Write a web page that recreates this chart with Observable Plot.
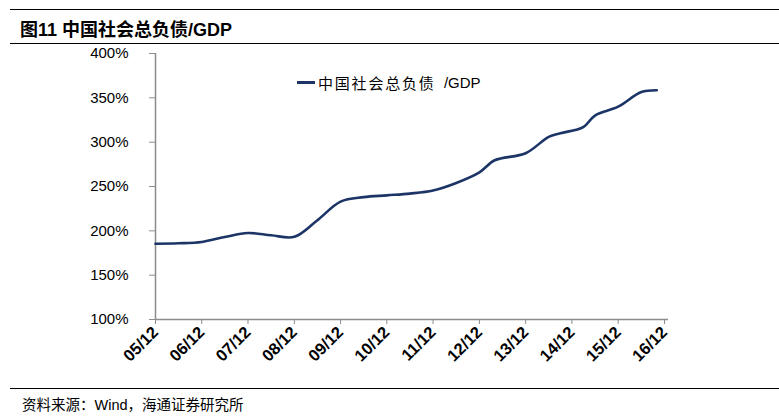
<!DOCTYPE html>
<html>
<head>
<meta charset="utf-8">
<script src="https://cdn.jsdelivr.net/npm/d3@7"></script>
<script src="https://cdn.jsdelivr.net/npm/@observablehq/plot@0.6"></script>
<style>
  html, body { margin: 0; padding: 0; background: #fff; }
  body { width: 779px; height: 416px; position: relative; overflow: hidden; font-family: "Liberation Sans", Arial, sans-serif; }
  #title { position: absolute; left: 10px; right: 0; top: 9px; height: 33px; border-top: 1.5px solid #000; border-bottom: 1.5px solid #000; }
  #title span { position: absolute; left: 10px; top: 5px; font-family: "Liberation Sans", "Noto Sans CJK SC", sans-serif; font-weight: bold; font-size: 18px; color: #000; }
  #chart { position: absolute; left: 0; top: 44px; }
  #legend { position: absolute; left: 297px; top: 72px; font-size: 15px; color: #000; display: flex; align-items: center; }
  #legend .sw { width: 18px; height: 3px; background: #1c3566; margin-right: 3px; }
  #legend .cn { font-family: "Noto Sans CJK SC", sans-serif; letter-spacing: 1.8px; }
  #footer { position: absolute; left: 10px; right: 0; top: 388px; border-top: 1.2px solid #000; }
  #footer span { position: absolute; left: 12px; top: 4px; font-size: 14.5px; font-family: "Liberation Sans", "Noto Sans CJK SC", sans-serif; color: #000; }
</style>
</head>
<body>
<div id="title"><span>图11 中国社会总负债/GDP</span></div>
<div id="chart"></div>
<div id="legend"><div class="sw"></div><span class="cn">中国社会总负债</span><span>&nbsp;&nbsp;/GDP</span></div>
<div id="footer"><span>资料来源：Wind，海通证券研究所</span></div>
<script>
// Data
const dates = ["2005-12","2006-06","2006-12","2007-06","2007-12","2008-06","2008-12","2009-06","2009-12","2010-06","2010-12","2011-06","2011-12","2012-06","2012-12","2013-04","2013-12","2014-06","2014-09","2015-03","2015-06","2015-12","2016-06","2016-10"];
const values = [185.5,186,187.5,193,197.5,195,193.2,212,233,238,240,242,245.5,254,266,279.6,287.5,306,310,317,330,340,356.5,358.6];
const tickLabels = ["05/12","06/12","07/12","08/12","09/12","10/12","11/12","12/12","13/12","14/12","15/12","16/12"];
const yTicks = [100,150,200,250,300,350,400];

const parse = s => new Date(s + "-01T00:00:00Z");
const data = dates.map((d, i) => ({date: parse(d), value: values[i]}));
const tickDates = tickLabels.map(l => parse("20" + l.slice(0,2) + "-" + l.slice(3)));
const labelOf = new Map(tickDates.map((d, i) => [+d, tickLabels[i]]));

const chart = Plot.plot({
  width: 779,
  height: 344,
  marginLeft: 155,
  marginRight: 115,
  marginTop: 9,
  marginBottom: 69,
  style: {fontFamily: "'Liberation Sans', Arial, sans-serif", background: "transparent", color: "#000"},
  x: {type: "utc", domain: [tickDates[0], tickDates[tickDates.length - 1]], label: null},
  y: {domain: [100, 400], label: null},
  marks: [
    Plot.ruleY([100], {x1: tickDates[0], x2: parse("2017-01"), stroke: "#8c8c8c", strokeWidth: 1.5}),
    Plot.ruleX([tickDates[0]], {y1: 100, y2: 400, stroke: "#8c8c8c", strokeWidth: 1.5}),
    Plot.axisY({ticks: yTicks, tickSize: 6, stroke: "#8c8c8c", tickFormat: () => "", label: null}),
    Plot.axisY({ticks: yTicks, tickSize: 0, tickPadding: 27, fontSize: 15, fill: "#000", tickFormat: d => d + "%", label: null}),
    Plot.axisX({ticks: tickDates, tickSize: 5, stroke: "#8c8c8c", tickFormat: () => "", label: null}),
    Plot.axisX({ticks: tickDates, tickSize: 0, tickPadding: 10, tickRotate: -45, fontSize: 16.5, fontWeight: "bold", fill: "#000", tickFormat: d => labelOf.get(+d), label: null}),
    Plot.line(data, {x: "date", y: "value", stroke: "#1c3566", strokeWidth: 2.6, curve: "catmull-rom"})
  ]
});
document.getElementById("chart").append(chart);
</script>
</body>
</html>
